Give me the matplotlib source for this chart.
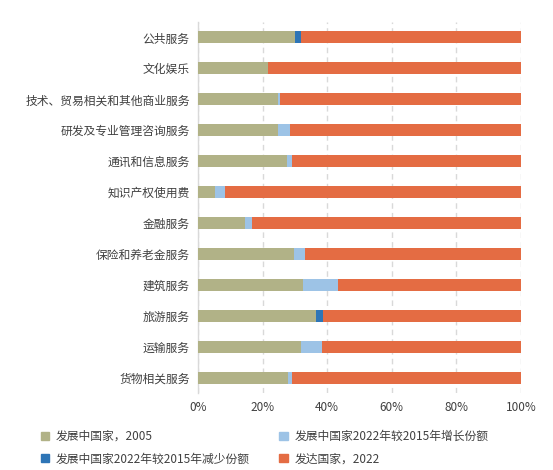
import matplotlib.pyplot as plt
import numpy as np
from matplotlib.patches import Patch

plt.rcParams['font.family'] = ['Noto Sans CJK SC', 'DejaVu Sans']

# categories, top to bottom
categories = ['公共服务', '文化娱乐', '技术、贸易相关和其他商业服务', '研发及专业管理咨询服务',
              '通讯和信息服务', '知识产权使用费', '金融服务', '保险和养老金服务',
              '建筑服务', '旅游服务', '运输服务', '货物相关服务']
dev_2005 = [30.0, 21.6, 24.7, 24.7, 27.5, 5.2, 14.5, 29.6, 32.4, 36.4, 31.8, 27.8]
dev_increase = [0, 0, 0.6, 3.7, 1.5, 3.1, 2.1, 3.4, 10.8, 0, 6.5, 1.2]
dev_decrease = [1.8, 0, 0, 0, 0, 0, 0, 0, 0, 2.2, 0, 0]

labels = ['发展中国家，2005', '发展中国家2022年较2015年增长份额',
          '发展中国家2022年较2015年减少份额', '发达国家，2022']
colors = ['#B1B287', '#9DC3E6', '#2E75B6', '#E46C43']

a = np.array(dev_2005)
b = np.array(dev_increase)
c = np.array(dev_decrease)
d = 100 - a - b - c

fig = plt.figure(figsize=(5.53, 4.70), dpi=100)
ax = fig.add_axes([198 / 553, 1 - 393 / 470, 323 / 553, 371 / 470])

y = np.arange(len(categories))
h = 0.39
ax.barh(y, a, h, color=colors[0], zorder=3)
ax.barh(y, b, h, left=a, color=colors[1], zorder=3)
ax.barh(y, c, h, left=a + b, color=colors[2], zorder=3)
ax.barh(y, d, h, left=a + b + c, color=colors[3], zorder=3)

ax.set_ylim(len(categories) - 0.5, -0.5)
ax.set_xlim(0, 100)
ax.set_yticks(y)
ax.set_yticklabels(categories, fontsize=8.5, color='#404040')
ax.set_xticks([0, 20, 40, 60, 80, 100])
ax.set_xticklabels(['0%', '20%', '40%', '60%', '80%', '100%'], fontsize=8.5, color='#404040')
ax.tick_params(length=0, pad=6)
ax.xaxis.grid(True, linestyle=(0, (4, 3)), color='#D9D9D9', linewidth=1, zorder=0)
for s in ['top', 'right', 'bottom']:
    ax.spines[s].set_visible(False)
ax.spines['left'].set_color('#D9D9D9')
ax.spines['left'].set_linewidth(1.0)

# legend fills column-wise, so order it to read row by row
order = [0, 2, 1, 3]
handles = [Patch(color=colors[i]) for i in order]
fig.legend(handles, [labels[i] for i in order], loc='lower left',
           bbox_to_anchor=(30 / 553, -6 / 470), ncol=2,
           frameon=False, fontsize=8.5, handlelength=0.7, handleheight=0.7,
           columnspacing=2.5, handletextpad=0.6, labelspacing=0.8, labelcolor='#404040')

fig.savefig('out.png', dpi=100)
